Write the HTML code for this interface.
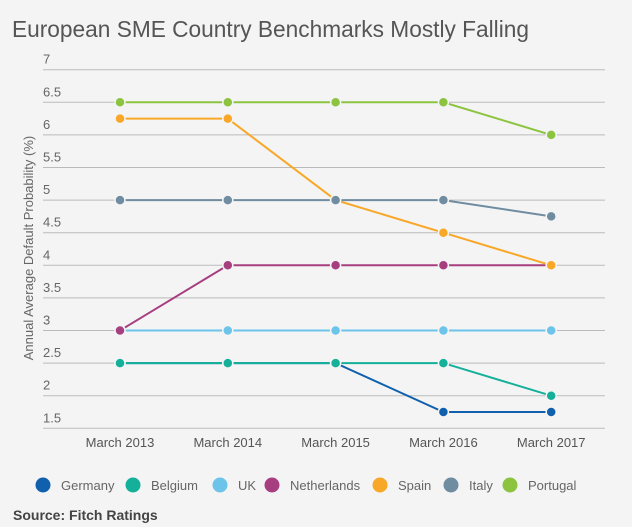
<!DOCTYPE html>
<html><head><meta charset="utf-8"><style>
body{margin:0;background:#f4f4f4;font-family:"Liberation Sans",sans-serif;}
#w{position:relative;width:632px;height:527px;background:#f4f4f4;overflow:hidden}
</style></head><body>
<div id="w">
<svg id="c" width="632" height="527">
<text x="12" y="37" font-size="22.7" fill="#555">European SME Country Benchmarks Mostly Falling</text>
<text transform="translate(33,248) rotate(-90)" text-anchor="middle" font-size="13" fill="#666">Annual Average Default Probability (%)</text>
<text x="13" y="520" font-size="14" fill="#444" font-weight="bold">Source: Fitch Ratings</text>
</svg>
</div>
<script>
const categories=["March 2013","March 2014","March 2015","March 2016","March 2017"];
const yTicks=[1.5,2,2.5,3,3.5,4,4.5,5,5.5,6,6.5,7];
const seriesNames=["Germany","Belgium","UK","Netherlands","Spain","Italy","Portugal"];
const seriesColors=["#1060ad","#14b09a","#6cc4ea","#a73e80","#f8a726","#6f8ca0","#8cc440"];
const germany=[2.5,2.5,2.5,1.75,1.75];
const belgium=[2.5,2.5,2.5,2.5,2];
const uk=[3,3,3,3,3];
const netherlands=[3,4,4,4,4];
const spain=[6.25,6.25,5,4.5,4];
const italy=[5,5,5,5,4.75];
const portugal=[6.5,6.5,6.5,6.5,6];
const seriesValues=[germany,belgium,uk,netherlands,spain,italy,portugal];
const NS="http://www.w3.org/2000/svg";
const svg=document.getElementById('c');
const y=v=>428.3-(v-1.5)*65.2;
const x=i=>120+i*107.8;
function mk(t,a){const e=document.createElementNS(NS,t);for(const k in a)e.setAttribute(k,a[k]);svg.appendChild(e);return e;}
yTicks.forEach(v=>{
 const l=mk('line',{x1:43,x2:605,y1:y(v),y2:y(v),stroke:'#bbb','stroke-width':1});
 
 
 const t=mk('text',{x:43,y:y(v)-6,'font-size':13,fill:'#666'});t.textContent=v;
 
 
});
categories.forEach((c,i)=>{
 const t=mk('text',{x:x(i),y:447,'font-size':13,fill:'#555','text-anchor':'middle'});t.textContent=c;
 
 
});
seriesValues.forEach((vals,s)=>{
 const p=mk('polyline',{points:vals.map((v,i)=>x(i)+','+y(v)).join(' '),fill:'none',stroke:seriesColors[s],'stroke-width':2});
 
 
});
seriesValues.forEach((vals,s)=>{
 vals.forEach((v,i)=>{
  const c=mk('circle',{cx:x(i),cy:y(v),r:5,fill:seriesColors[s],stroke:'#f4f4f4','stroke-width':1.5});
  
  
 });
});
const legX=[43,133,220,272,380,451,510];
seriesNames.forEach((n,s)=>{
 const c=mk('circle',{cx:legX[s],cy:485,r:7.5,fill:seriesColors[s]});
 
 
 const t=mk('text',{x:legX[s]+18,y:490,'font-size':13,fill:'#666'});t.textContent=n;
 
 
});
</script>
</body></html>
